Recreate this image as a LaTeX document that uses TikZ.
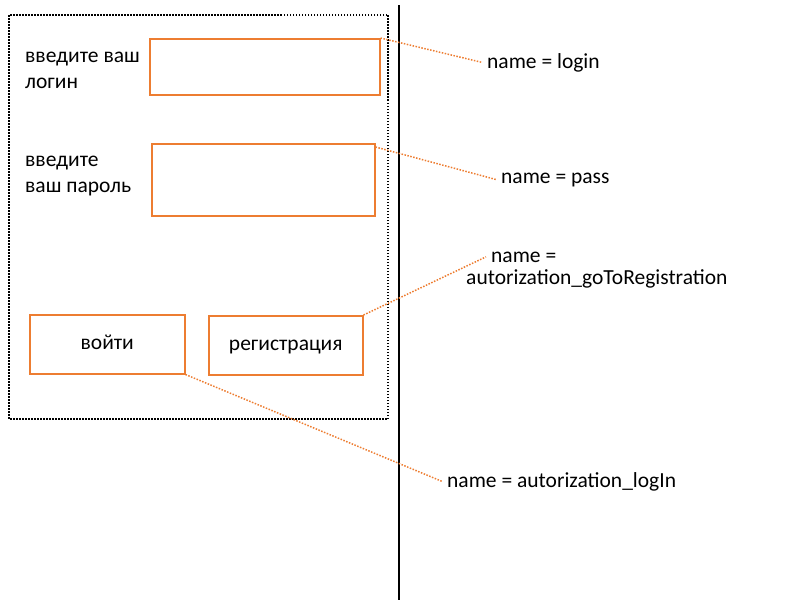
\documentclass[tikz,border=0pt]{standalone}
\usepackage{fontspec}
\setmainfont{Carlito}
\definecolor{fieldorange}{HTML}{ED7D31}
\tikzset{
	field/.style={draw=fieldorange, line width=1.5pt, inner sep=0pt, anchor=north west, font=\fontsize{21.5}{24}\selectfont, text height=15pt, text depth=4pt},
	caption/.style={font=\fontsize{21.5}{25.5}\selectfont, align=left, inner sep=0pt, anchor=base west},
	idtext/.style={font=\fontsize{21.5}{24}\selectfont, inner xsep=5pt, inner ysep=0pt, anchor=base west},
	pointer/.style={draw=fieldorange, line width=1.5pt, dash pattern=on 1.5pt off 1.5pt}
}
\begin{document}
\begin{tikzpicture}[x=1pt, y=-1pt]
		\useasboundingbox (0,0) rectangle (800,600);
		% form frame and divider
		\draw[line width=1.5pt, dash pattern=on 1.5pt off 1.5pt] (9,15) rectangle (388,419);
		\draw[line width=1.5pt] (399,5) -- (399,600);
		% captions (base = last line)
		\node[caption] (logincap) at (25,88) {введите ваш\\логин};
		\node[caption] (passcap) at (25,192) {введите\\ваш пароль};
		% fields and buttons
		\node[field, minimum width=230pt, minimum height=56pt] (login) at (149,38) {};
		\node[field, minimum width=223pt, minimum height=72pt] (pass) at (151,143) {};
		\node[field, minimum width=155pt, minimum height=59pt] (enter) at (29,314) {войти};
		\node[field, minimum width=154pt, minimum height=59pt] (reg) at (208,315) {регистрация};
		% ids
		\node[idtext] (loginid) at (482,68) {name = login};
		\node[idtext] (passid) at (496,183) {name = pass};
		\node[idtext] (regname) at (486,262) {name =};
		\node[idtext] (regid) at (461,284) {autorization\_goToRegistration};
		\node[idtext] (enterid) at (442,487) {name = autorization\_logIn};
		% pointers
		\draw[pointer] (login.north east) -- (loginid.west);
		\draw[pointer] ([yshift=-4pt]pass.north east) -- (passid.west);
		\draw[pointer] (reg.north east) -- (regname.west);
		\draw[pointer] (enter.south east) -- (enterid.west);
\end{tikzpicture}
\end{document}
